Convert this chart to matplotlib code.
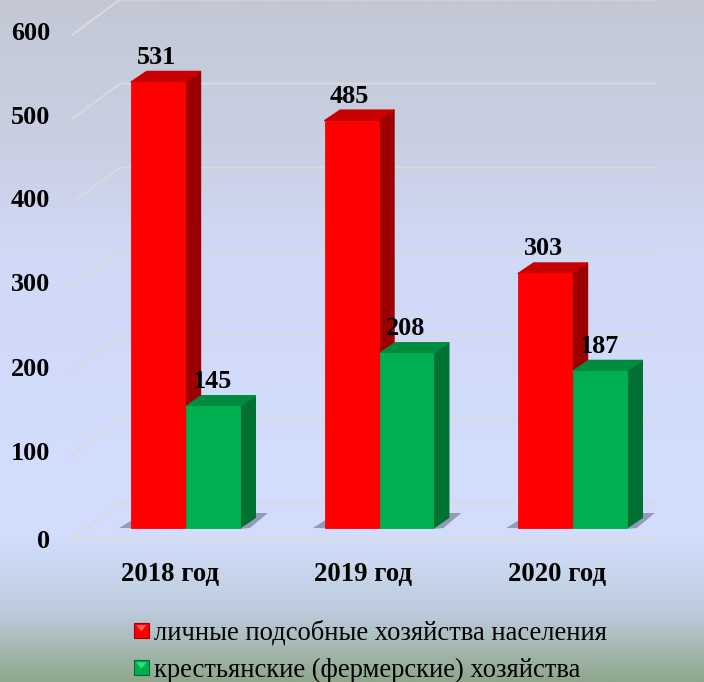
import numpy as np
import matplotlib
matplotlib.use("Agg")
import matplotlib.pyplot as plt
from matplotlib.colors import LinearSegmentedColormap
from matplotlib.patches import Polygon, Rectangle
from matplotlib.legend_handler import HandlerBase

categories = ["2018 год", "2019 год", "2020 год"]
series_names = ["личные подсобные хозяйства населения",
                "крестьянские (фермерские) хозяйства"]
personal = [531, 485, 303]
farm = [145, 208, 187]
yticks = [0, 100, 200, 300, 400, 500, 600]

W, H = 704, 682
fig = plt.figure(figsize=(W / 100, H / 100), dpi=100)
ax = fig.add_axes([0, 0, 1, 1])
PXX, PXY = 193.5, 0.84
dx = lambda p: p / PXX
dy = lambda p: p / PXY
ax.set_xlim(-186 / PXX, (W - 186) / PXX)
ax.set_ylim((528 - H) / PXY, 528 / PXY)
ax.axis("off")

stops = [(0, "#c4c8d5"), (0.2, "#c9cfe2"), (0.38, "#d0d9f6"), (0.78, "#d3deff"),
         (0.84, "#c8d6ec"), (0.9, "#bccbdc"), (1, "#8fa78c")]
cmap = LinearSegmentedColormap.from_list("bg", stops)
ax.imshow(np.linspace(0, 1, 256)[:, None], cmap=cmap, aspect="auto",
          extent=[*ax.get_xlim(), ax.get_ylim()[0], ax.get_ylim()[1]], zorder=0)
ax.set_xlim(-186 / PXX, (W - 186) / PXX)
ax.set_ylim((528 - H) / PXY, 528 / PXY)

FRONT_X, BACK_X, RIGHT_X = dx(72 - 186), dx(120 - 186), dx(655 - 186)
FRONT_DY, BACK_DY = dy(-11), dy(24.5)
grid = "#d9dadb"
for v in yticks:
    ax.plot([FRONT_X, BACK_X, RIGHT_X], [v + FRONT_DY, v + BACK_DY, v + BACK_DY],
            color=grid, lw=1.4, zorder=1, solid_joinstyle="miter")
    shift = dy(-2) if v == 0 else dy(2)
    ax.text(dx(50 - 186), v + FRONT_DY + shift, str(v), ha="right", va="center",
            family="Liberation Serif", weight="bold", fontsize=18.8, color="black", zorder=6)
ax.plot([FRONT_X, RIGHT_X], [FRONT_DY, FRONT_DY], color="#dddcd8", lw=1.4, zorder=1)

bw = dx(53.8)
ddx, ddy = dx(15.5), dy(10.5)


def bar3d(x, v, front, side, top, z):
    l, r = x, x + bw
    ax.add_patch(Polygon([(r, 0), (r + ddx, ddy), (r + ddx, v + ddy), (r, v)],
                         closed=True, fc=side, ec=side, lw=1.0, joinstyle="round", zorder=z + 0.1))
    ax.add_patch(Polygon([(l, v), (l + ddx, v + ddy), (r + ddx, v + ddy), (r, v)],
                         closed=True, fc=top, ec=top, lw=1.0, joinstyle="round", zorder=z + 0.1))
    ax.add_patch(Rectangle((l, 0), bw, v, fc=front, ec=front, lw=0.6, zorder=z + 0.2))


for i, (a, b) in enumerate(zip(personal, farm)):
    ax.add_patch(Polygon([(i - bw - dx(13), 0), (i - bw, dy(8)), (i + bw + ddx, dy(15)),
                          (i + bw + dx(28), dy(15)), (i + bw + dx(10), dy(0)), (i + bw, dy(-1))],
                         closed=True, fc="#5f6478", ec="none", alpha=0.55, zorder=1.5))
    bar3d(i - bw - dx(1), a, "#ff0000", "#9c0000", "#c80000", 2 + i)
    bar3d(i, b, "#00b050", "#007033", "#008c3f", 2.5 + i)
    for off, v in ((-bw / 2 - dx(3), a), (bw / 2 - dx(0.5), b)):
        ax.text(i + off, v + ddy + dy(14), str(v), ha="center", va="center",
                family="Liberation Serif", weight="bold", fontsize=18.8, color="black", zorder=8)
    ax.text(i - dx(16), dy(528 - 574), categories[i], ha="center", va="center",
            family="Liberation Serif", weight="bold", fontsize=19.3, color="black", zorder=8)


class Bevel(HandlerBase):
    def __init__(self, edge, light):
        super().__init__()
        self.edge, self.light = edge, light

    def create_artists(self, legend, orig, xd, yd, width, height, fontsize, trans):
        s = 10.5
        x0, y0 = width - s - xd, height / 2 - s / 2 - yd
        outer = Rectangle((x0, y0), s, s, fc=orig.get_facecolor(), ec=self.edge, lw=0.8, transform=trans)
        inner = Polygon([(x0 + 1.5, y0 + s - 1.5), (x0 + s - 1.5, y0 + s - 1.5), (x0 + s / 2, y0 + 4.5)],
                        closed=True, fc=self.light, ec="none", transform=trans)
        return [outer, inner]


h1 = Rectangle((0, 0), 1, 1, fc="#ff0000")
h2 = Rectangle((0, 0), 1, 1, fc="#00b050")
fig.legend([h1, h2], series_names, loc="lower left", bbox_to_anchor=(98 / W, -25 / H),
           frameon=False, ncol=1, handlelength=1.0, handletextpad=0.2, labelspacing=0.46,
           prop={"family": "Liberation Serif", "size": 19.2},
           handler_map={h1: Bevel("#a00000", "#ff5a5a"), h2: Bevel("#006d33", "#30e080")})
fig.savefig("out.png", dpi=100)
